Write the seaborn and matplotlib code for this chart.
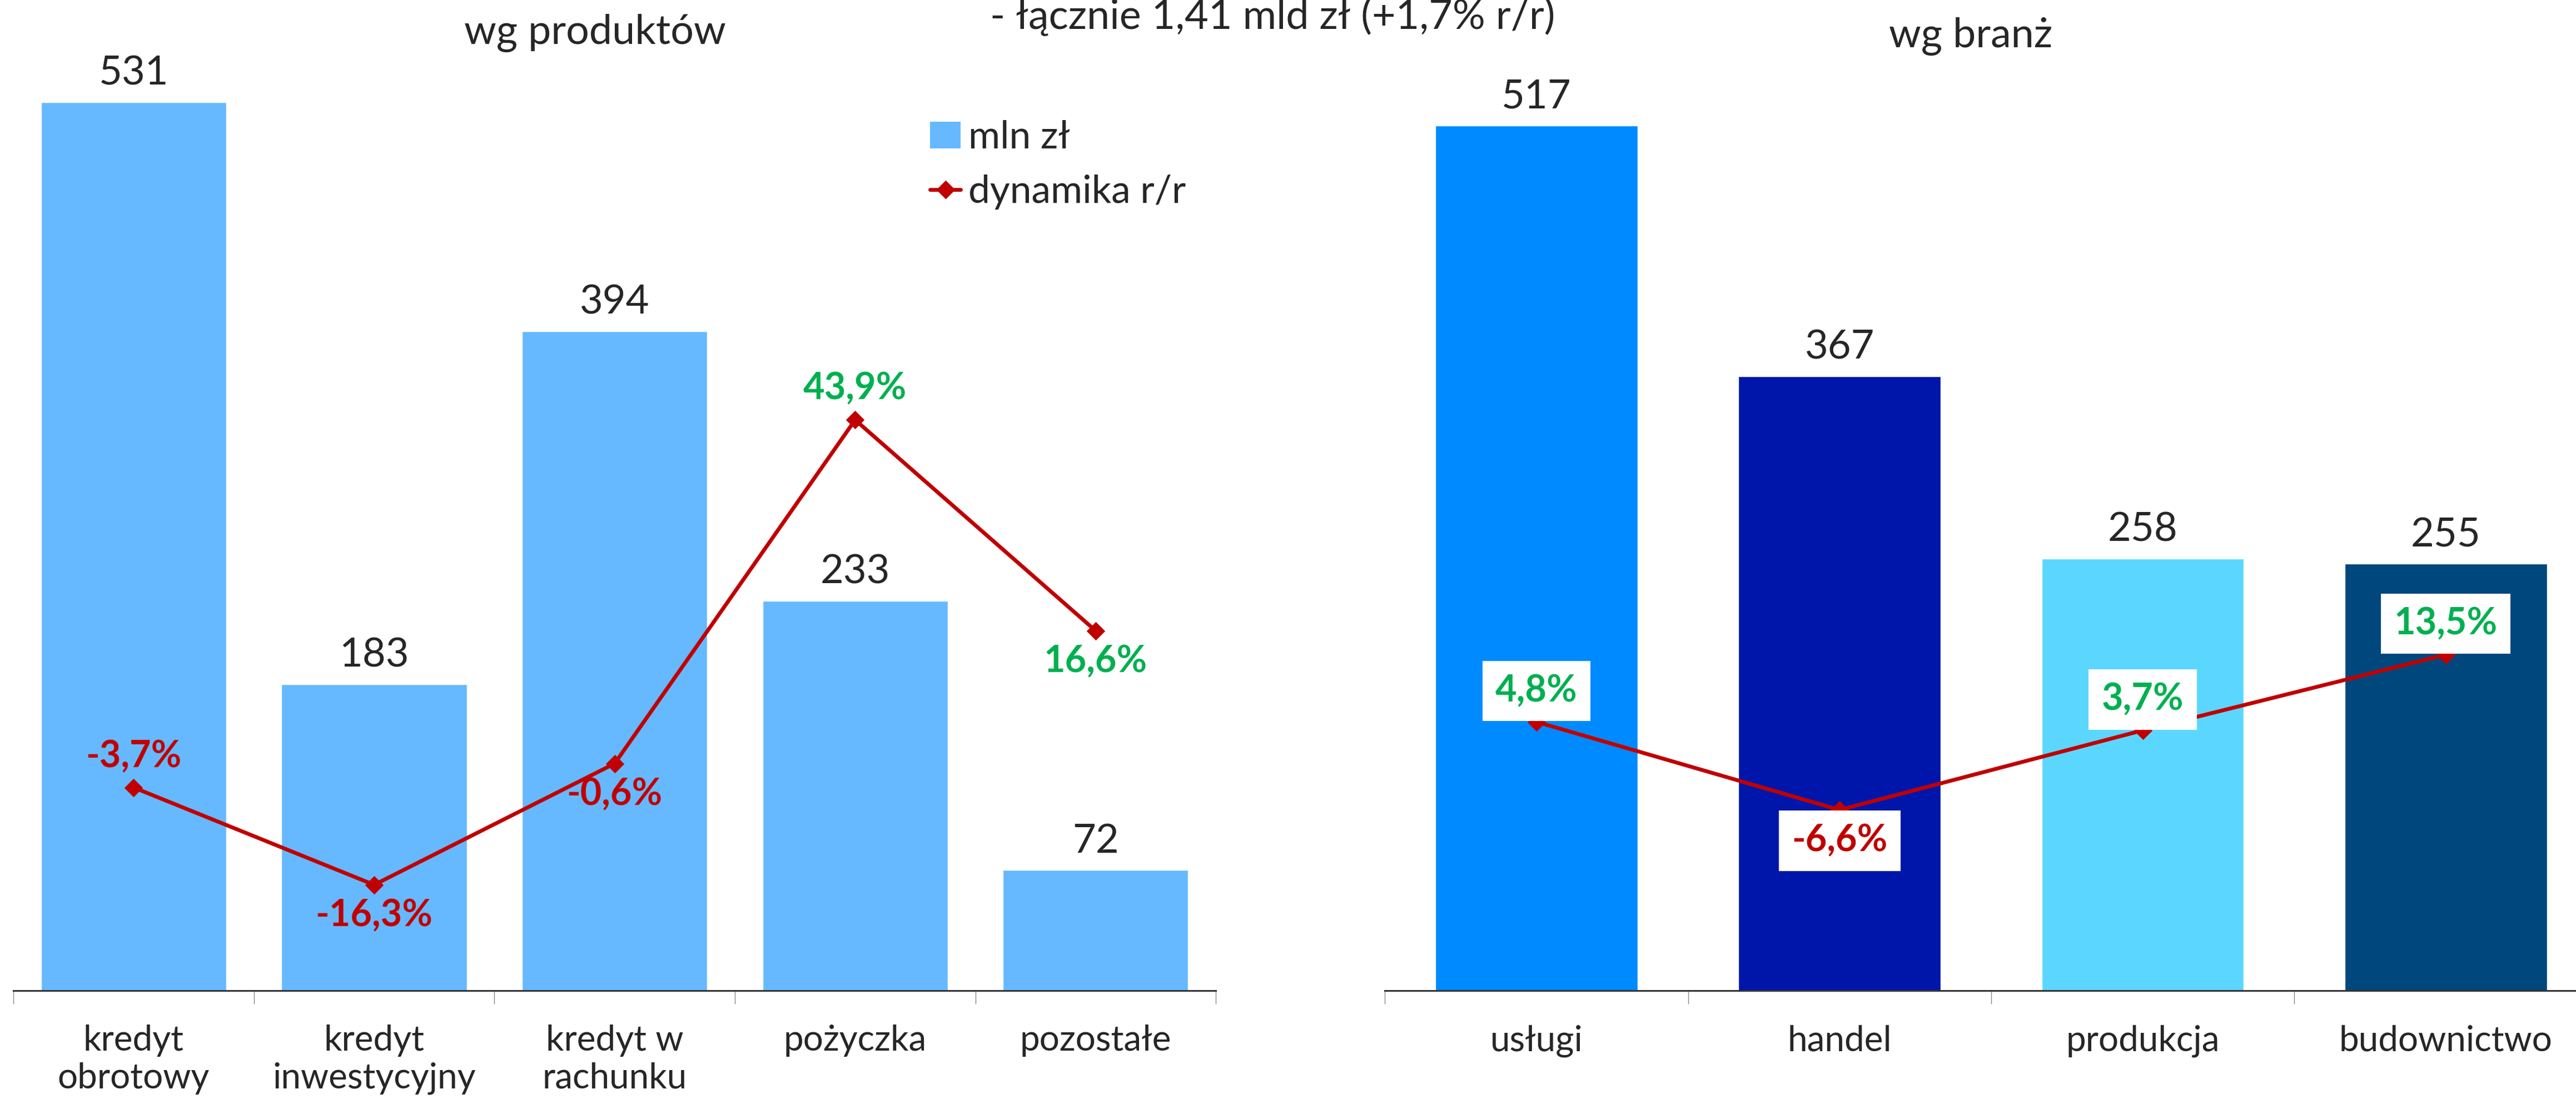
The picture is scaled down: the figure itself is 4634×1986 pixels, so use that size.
import numpy as np
import pandas as pd
import matplotlib
matplotlib.use("Agg")
import matplotlib.pyplot as plt
from matplotlib.patches import Patch
from matplotlib.lines import Line2D
from matplotlib.ticker import FixedLocator, NullLocator
import seaborn as sns

# dane
prod_cats = ["kredyt\nobrotowy", "kredyt\ninwestycyjny", "kredyt w\nrachunku", "pożyczka", "pozostałe"]
prod_vals = [531, 183, 394, 233, 72]
prod_dyn = [-3.7, -16.3, -0.6, 43.9, 16.6]

branch_cats = ["usługi", "handel", "produkcja", "budownictwo"]
branch_vals = [517, 367, 258, 255]
branch_dyn = [4.8, -6.6, 3.7, 13.5]

main_title = "- łącznie 1,41 mld zł (+1,7% r/r)"
prod_title = "wg produktów"
branch_title = "wg branż"

# styl
sns.set_style("white")
plt.rcParams["font.family"] = ["Lato", "DejaVu Sans"]

prod_color = "#66B9FF"
branch_colors = ["#008AFF", "#0016AA", "#5BD7FF", "#00477E"]
line_color = "#C00000"
pos_color = "#00B050"
neg_color = "#C00000"

# 1 = etykieta nad punktem, -1 = pod punktem
prod_side = [1, -1, -1, 1, -1]
branch_side = [1, -1, 1, 1]

fig = plt.figure(figsize=(46.34, 19.86), dpi=100)

ax1 = fig.add_axes([0.0052, 0.1027, 0.4668, 0.9094])
ax2 = fig.add_axes([0.5376, 0.1027, 0.4707, 0.9094])


def panel(ax, cats, vals, dyn, colors, width, side, boxed):
    df = pd.DataFrame({"cat": cats, "val": vals})
    sns.barplot(data=df, x="cat", y="val", hue="cat", palette=colors,
                width=width, legend=False, ax=ax, saturation=1)
    ax.set_ylim(0, 600)
    ax.set_xlim(-0.5, len(cats) - 0.5)
    ax.set_xlabel("")
    ax.set_ylabel("")
    ax.set_yticks([])
    for s in ["top", "left", "right"]:
        ax.spines[s].set_visible(False)
    ax.spines["bottom"].set_color("#333333")
    ax.spines["bottom"].set_linewidth(2.2)
    ax.tick_params(axis="x", which="major", length=0, pad=44, labelsize=46)
    ax.xaxis.set_minor_locator(FixedLocator(np.arange(len(cats) + 1) - 0.5))
    ax.tick_params(axis="x", which="minor", bottom=True, length=17, width=1.0,
                   color="#888888", direction="out")
    for lbl in ax.get_xticklabels():
        lbl.set_linespacing(1.2)
    for i, v in enumerate(vals):
        ax.annotate(str(v), (i, v), xytext=(0, 14), textcoords="offset points",
                    ha="center", va="bottom", fontsize=52)

    tw = ax.twinx()
    sns.lineplot(x=np.arange(len(dyn)), y=dyn, ax=tw, color=line_color,
                 linewidth=5, marker="D", markersize=16, markeredgecolor=line_color)
    tw.set_ylim(-30, 100)
    tw.set_yticks([])
    tw.set_ylabel("")
    tw.yaxis.set_minor_locator(NullLocator())
    for s in tw.spines.values():
        s.set_visible(False)
    for i, (d, sd) in enumerate(zip(dyn, side)):
        txt = f"{d:.1f}%".replace(".", ",")
        col = pos_color if d > 0 else neg_color
        kw = {}
        if boxed:
            kw["bbox"] = dict(boxstyle="square,pad=0.35", fc="white", ec="none")
        tw.annotate(txt, (i, d), xytext=(0, 40 * sd), textcoords="offset points",
                    ha="center", va="center", fontsize=48, fontweight="bold",
                    color=col, **kw)


panel(ax1, prod_cats, prod_vals, prod_dyn, [prod_color] * len(prod_cats), 0.77, prod_side, False)
panel(ax2, branch_cats, branch_vals, branch_dyn, branch_colors, 0.667, branch_side, True)

fig.text(0.494, 0.985, main_title, ha="center", va="center", fontsize=53)
fig.text(0.231, 0.970, prod_title, ha="center", va="center", fontsize=53)
fig.text(0.765, 0.967, branch_title, ha="center", va="center", fontsize=53)

handles = [
    Patch(facecolor=prod_color, edgecolor="none", label="mln zł"),
    Line2D([0], [0], color=line_color, linewidth=5, marker="D", markersize=16, label="dynamika r/r"),
]
fig.legend(handles=handles, loc="upper left", bbox_to_anchor=(0.355, 0.905),
           frameon=False, fontsize=50, handlelength=0.8, handletextpad=0.2,
           labelspacing=0.5, borderaxespad=0)

fig.savefig("out.png", dpi=100)
